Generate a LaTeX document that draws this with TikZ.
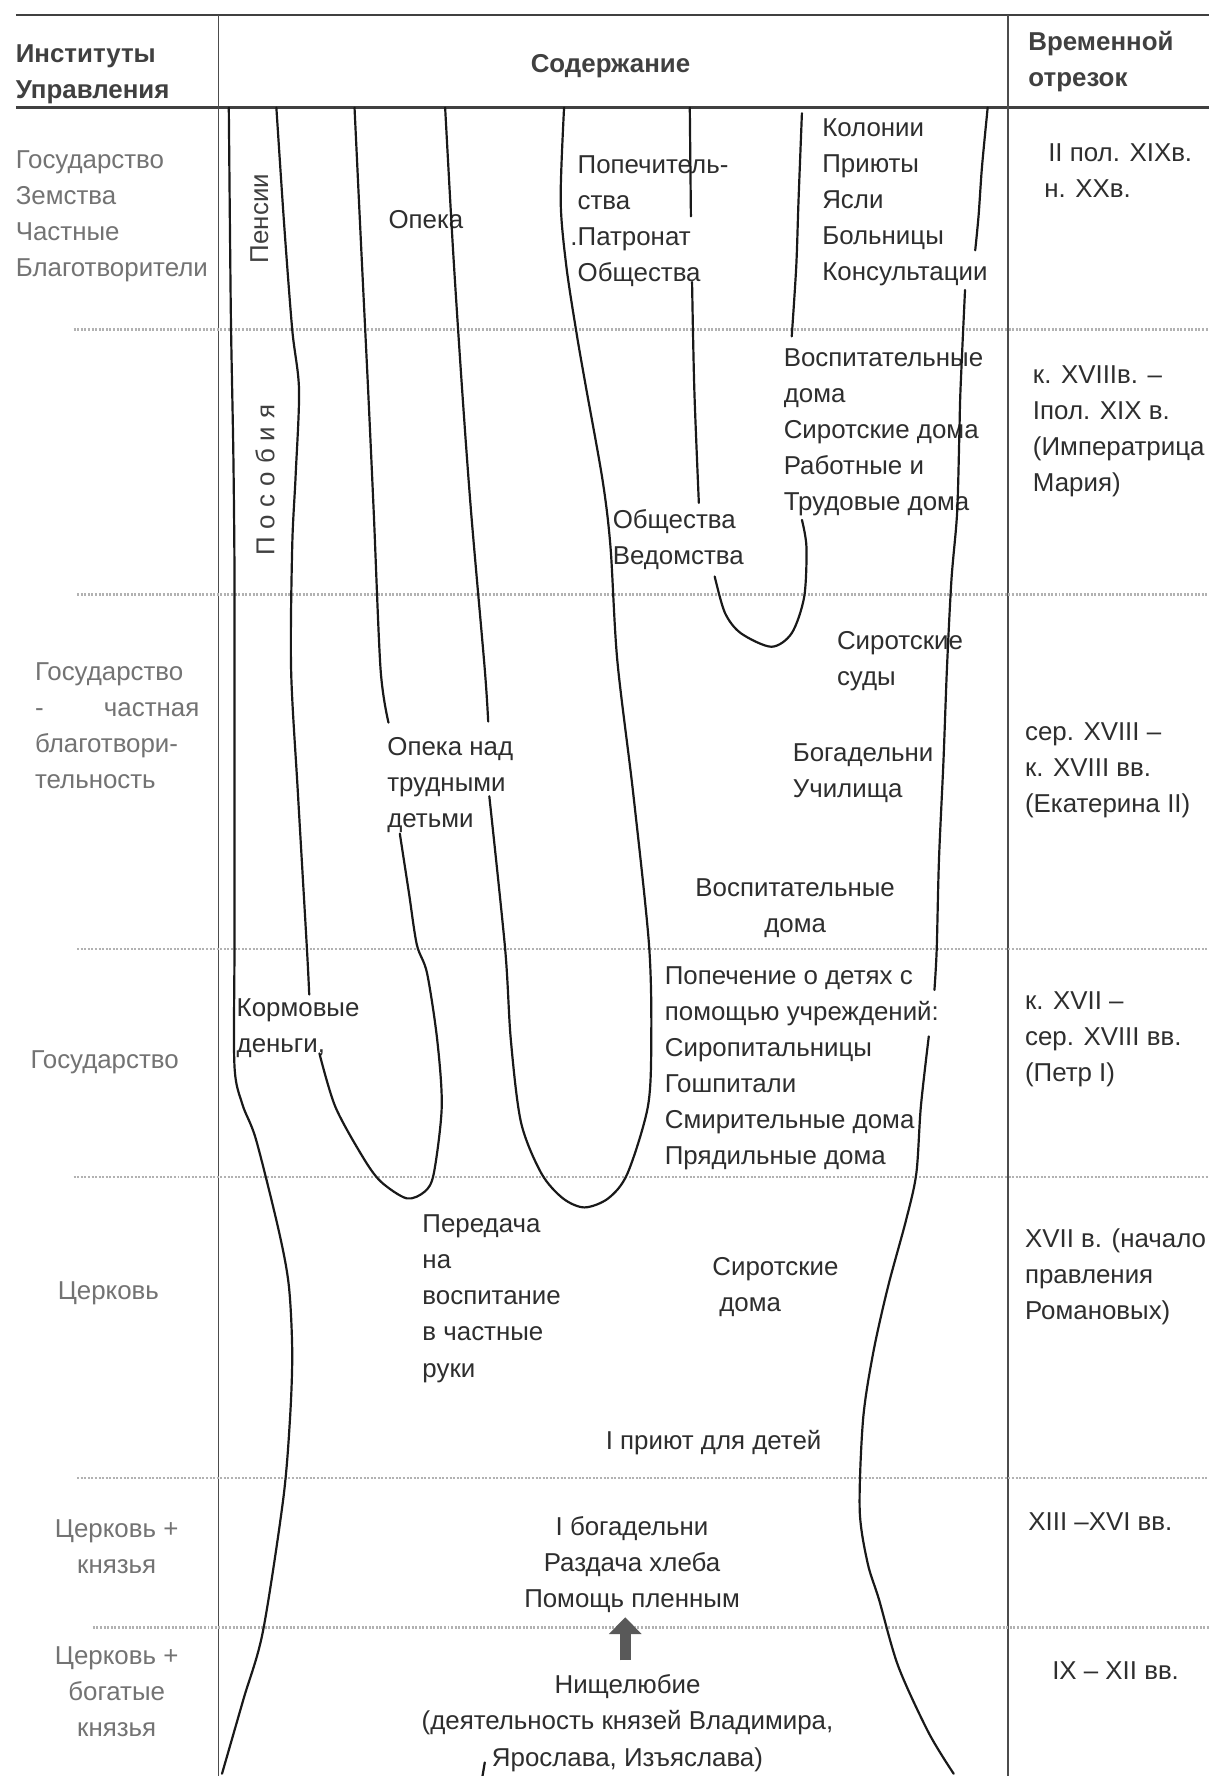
\documentclass[tikz,border=0pt]{standalone}
\usepackage{fontspec}
\setmainfont{Liberation Sans}
\usetikzlibrary{arrows.meta}

\tikzset{
  lbl/.style={font=\fontsize{13}{18.1}\selectfont, text=black!82, inner sep=0pt, outer sep=0pt,
    align=left, anchor=north west, yshift=-3.3pt},
  clbl/.style={lbl, align=center, anchor=north},
  side/.style={lbl, text=black!55},
  hdr/.style={lbl, font=\fontsize{13}{18.1}\selectfont\bfseries, text=black!75},
  vlbl/.style={font=\fontsize{13}{18.1}\selectfont, text=black!75, inner sep=0pt, rotate=90},
  crv/.style={line width=1.1pt, black!90, line cap=round, line join=round},
  sep/.style={line width=0.6pt, black!70},
  dotln/.style={line width=1.3pt, black!30, dash pattern=on 1pt off 0.8pt},
  bigarrow/.style={line width=5.7pt, black!65, -{Triangle[width=16pt,length=8.5pt]}},
}

\begin{document}
\begin{tikzpicture}[x=0.02cm, y=-0.02cm]
  \fill[white] (0,0) rectangle (1067,1568);
  \useasboundingbox (0,0) rectangle (1067,1568);

  % table frame
  \draw[line width=1.2pt, black!75] (14,13) -- (1067,13);
  \draw[line width=1.2pt, black!75] (14,95) -- (1067,95);
  \draw[sep] (193,13) -- (193,1568);
  \draw[sep] (890,13) -- (890,1568);

  % period borders
  \draw[dotln] (65,291) -- (1067,291);
  \draw[dotln] (68,525) -- (1067,525);
  \draw[dotln] (68,838) -- (1067,838);
  \draw[dotln] (65,1039) -- (1067,1039);
  \draw[dotln] (68,1305) -- (1067,1305);
  \draw[dotln] (82,1437) -- (1067,1437);

  % header
  \node[hdr] (inst) at (14,34) {Институты\\Управления};
  \node[hdr, anchor=north] (cont) at (539,42) {Содержание};
  \node[hdr] (time) at (908,22) {Временной\\отрезок};

  % left column
  \node[side] (gov1) at (14,127) {Государство\\Земства\\Частные\\Благотворители};
  \node[side] (gov2) at (31,579) {Государство\\\makebox[2.9cm][l]{-\hfill частная}\\благотвори-\\тельность};
  \node[side] (gov3) at (27,922) {Государство};
  \node[side] (church1) at (51,1126) {Церковь};
  \node[side, align=center, anchor=north] (church2) at (103,1336) {Церковь +\\князья};
  \node[side, align=center, anchor=north] (church3) at (103,1448) {Церковь +\\богатые\\князья};

  % right column
  \node[lbl] (per1) at (922,121) {\hspace*{2pt}II пол. XIXв.\\н. XXв.};
  \node[lbl] (per2) at (912,317) {к. XVIIIв. –\\Iпол. XIX в.\\(Императрица\\Мария)};
  \node[lbl] (per3) at (905,632) {сер. XVIII –\\к. XVIII вв.\\(Екатерина II)};
  \node[lbl] (per4) at (905,870) {к. XVII –\\сер. XVIII вв.\\(Петр I)};
  \node[lbl] (per5) at (905,1079) {XVII в. (начало\\правления\\Романовых)};
  \node[lbl] (per6) at (908,1330) {XIII –XVI вв.};
  \node[lbl] (per7) at (929,1461) {IX – XII вв.};

  % content
  \node[vlbl] (pens) at (229,193) {Пенсии};
  \node[vlbl] (posob) at (234,424) {П\kern4pt о\kern4pt с\kern4pt о\kern4pt б\kern4pt и\kern4pt я};
  \node[lbl] (opeka) at (343,180) {Опека};
  \node[lbl] (popech) at (510,132) {Попечитель-\\ства\\\llap{.}Патронат\\Общества};
  \node[lbl] (colon) at (726,99) {Колонии\\Приюты\\Ясли\\Больницы\\Консультации};
  \node[lbl] (vosp1) at (692,302) {Воспитательные\\дома\\Сиротские дома\\Работные и\\Трудовые дома};
  \node[lbl] (obsh) at (541,444) {Общества\\Ведомства};
  \node[lbl] (sirsud) at (739,552) {Сиротские\\суды};
  \node[lbl] (opnad) at (342,645) {Опека над\\трудными\\детьми};
  \node[lbl] (bogad) at (700,651) {Богадельни\\Училища};
  \node[clbl] (vosp2) at (702,770) {Воспитательные\\дома};
  \node[lbl] (popdet) at (587,848) {Попечение о детях с\\помощью учреждений:\\Сиропитальницы\\Гошпитали\\Смирительные дома\\Прядильные дома};
  \node[lbl] (korm) at (209,876) {Кормовые\\деньги,};
  \node[lbl] (pered) at (373,1067) {Передача\\на\\воспитание\\в частные\\руки};
  \node[lbl] (sirdom) at (629,1104) {Сиротские\\\hspace*{3.5pt}дома};
  \node[clbl] (priut) at (630,1257) {I приют для детей};
  \node[clbl] (bogad2) at (558,1333) {I богадельни\\Раздача хлеба\\Помощь пленным};
  \node[clbl] (nisch) at (554,1473) {Нищелюбие\\(деятельность князей Владимира,\\Ярослава, Изъяслава)};

  \draw[bigarrow] (nisch.north) ++(-2,-13) -- ++(0,-38);

  % outer left line
  \draw[crv] plot[smooth] coordinates {(202,95) (203,200) (204,291) (206,400) (207,500) (207,600) (207,700) (207,838) (207,941) (214,975) (226,1006) (246,1086) (255,1135) (258,1194) (256,1253) (250,1324) (232,1441) (215,1500) (196,1566)};

  % first loop
  \draw[crv] plot[smooth] coordinates {(244,95) (251,200) (258,291) (264,344) (261,420) (258,482) (257,591) (263,700) (271,838) (273,878)};
  \draw[crv] plot[smooth] coordinates {(282,930) (296,977) (320,1021) (336,1043) (359,1058) (375,1052) (383,1036) (390,977) (386,918) (377,859) (368,834) (361,788) (353,736)};
  \draw[crv] plot[smooth] coordinates {(313,95) (319,221) (325,344) (330,453) (336,591) (343,638)};

  % second loop
  \draw[crv] plot[smooth] coordinates {(393,95) (400,221) (408,344) (416,453) (428,591) (431,637)};
  \draw[crv] plot[smooth] coordinates {(432,703) (446,838) (451,918) (460,991) (478,1036) (497,1058) (516,1066) (537,1058) (554,1036) (572,977) (575,918) (573,834) (559,700) (545,583) (539,483) (532,424) (517,340) (509,294) (500,235) (495,177) (498,95)};

  % third loop
  \draw[crv] (609,95) -- (610,191);
  \draw[crv] plot[smooth] coordinates {(611,249) (613,344) (617,444)};
  \draw[crv] plot[smooth] coordinates {(631,509) (640,541) (654,559) (681,571) (699,559) (710,527) (712,483) (708,459)};
  \draw[crv] plot[smooth] coordinates {(708,100) (705,177) (703,235) (699,297)};

  % outer right line
  \draw[crv] plot[smooth] coordinates {(872,95) (867,147) (864,190) (861,221)};
  \draw[crv] plot[smooth] coordinates {(852,256) (848,344) (847,383) (845,453) (840,512) (836,591) (833,671) (829,759) (827,838) (825,874)};
  \draw[crv] plot[smooth] coordinates {(820,915) (813,977) (809,1036) (800,1077) (784,1136) (771,1194) (762,1253) (759,1333) (766,1380) (776,1412) (793,1471) (820,1530) (842,1566)};

  \draw[crv] (428,1556) -- (426,1568);
\end{tikzpicture}
\end{document}
